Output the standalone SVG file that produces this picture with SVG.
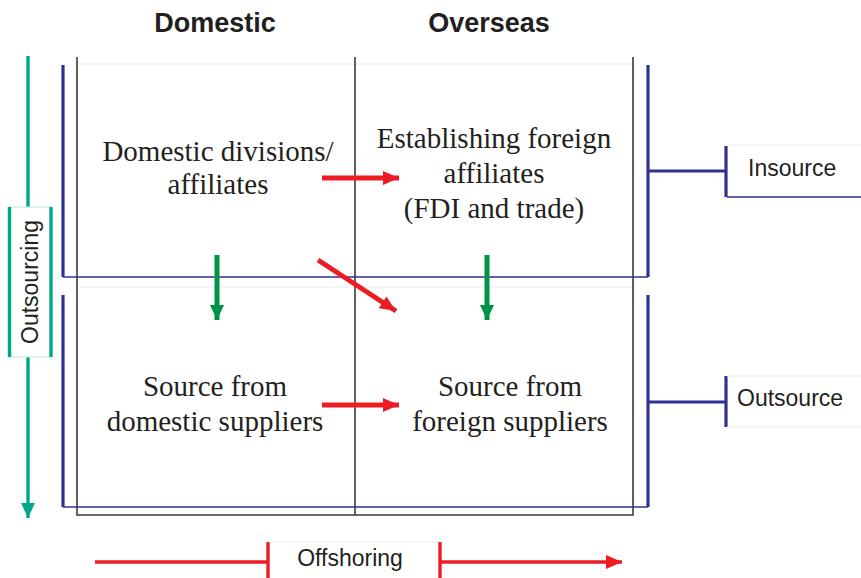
<svg xmlns="http://www.w3.org/2000/svg" width="861" height="578" viewBox="0 0 861 578">
<style>
.hdr{font-family:"Liberation Sans",Arial,sans-serif;font-weight:bold;font-size:27px;fill:#231f20;text-anchor:middle}
.cell{font-family:"Liberation Serif","Times New Roman",serif;font-size:29px;fill:#231f20;text-anchor:middle}
.lbl{font-family:"Liberation Sans",Arial,sans-serif;font-size:23px;fill:#231f20}
.grid{stroke:#3a3a3a;stroke-width:1.6;fill:none}
.faint{stroke:#ececec;stroke-width:1;fill:none}
.blue{stroke:#2e3192;stroke-width:3.2;fill:none}
.bluethin{stroke:#2e3192;stroke-width:1.5;fill:none}
.teal{stroke:#00a88a;stroke-width:3.4;fill:none}
.red{stroke:#ed1c24;stroke-width:5;fill:none}
.redline{stroke:#ed1c24;stroke-width:3.4;fill:none}
.green{stroke:#009245;stroke-width:5;fill:none}
</style>
<defs>
<marker id="ahRed" markerUnits="userSpaceOnUse" markerWidth="16" markerHeight="14" refX="16" refY="7" orient="auto"><path d="M0,0 L16,7 L0,14 Z" fill="#ed1c24"/></marker>
<marker id="ahGreen" markerUnits="userSpaceOnUse" markerWidth="15" markerHeight="14" refX="15" refY="7" orient="auto"><path d="M0,0 L15,7 L0,14 Z" fill="#009245"/></marker>
<marker id="ahTeal" markerUnits="userSpaceOnUse" markerWidth="15" markerHeight="14" refX="15" refY="7" orient="auto"><path d="M0,0 L15,7 L0,14 Z" fill="#00a88a"/></marker>
</defs>
<rect width="861" height="578" fill="#ffffff"/>

<g id="grid">
<line class="faint" x1="77" y1="64" x2="633" y2="64"/>
<line class="faint" x1="77" y1="287" x2="633" y2="287"/>
<path class="grid" d="M77,57 V515 H633 V57"/>
<line class="grid" x1="355" y1="57" x2="355" y2="515"/>
</g>

<g id="headers">
<text class="hdr" x="215" y="32">Domestic</text>
<text class="hdr" x="489" y="32">Overseas</text>
</g>

<g id="brackets">
<path class="blue" d="M63,65 V277"/>
<path class="blue" d="M648,65 V277"/>
<line class="bluethin" x1="63" y1="277" x2="648" y2="277"/>
<path class="blue" d="M63,295 V507"/>
<path class="blue" d="M648,295 V507"/>
<line class="bluethin" x1="63" y1="507" x2="648" y2="507"/>
</g>

<g id="insource">
<line class="blue" x1="648" y1="171" x2="726" y2="171"/>
<line class="blue" x1="726" y1="146" x2="726" y2="197"/>
<line class="faint" x1="727" y1="145" x2="861" y2="145"/>
<line stroke="#2e3192" stroke-width="1.3" x1="727" y1="197" x2="861" y2="197"/>
<text class="lbl" x="748" y="176">Insource</text>
</g>

<g id="outsource">
<line class="blue" x1="648" y1="402" x2="726" y2="402"/>
<line class="blue" x1="726" y1="376" x2="726" y2="427"/>
<line class="faint" x1="727" y1="376" x2="861" y2="376"/>
<line class="faint" x1="727" y1="427" x2="861" y2="427"/>
<text class="lbl" x="737" y="406">Outsource</text>
</g>

<g id="outsourcing">
<line class="teal" x1="28" y1="56" x2="28" y2="207"/>
<line class="teal" x1="28" y1="357" x2="28" y2="518" marker-end="url(#ahTeal)"/>
<line stroke="#bfe8de" stroke-width="1" x1="9" y1="207" x2="51" y2="207"/>
<line stroke="#bfe8de" stroke-width="1" x1="9" y1="357" x2="51" y2="357"/>
<line class="teal" x1="9.5" y1="207" x2="9.5" y2="357"/>
<line class="teal" x1="51" y1="207" x2="51" y2="357"/>
<text class="lbl" transform="translate(38,282) rotate(-90)" text-anchor="middle">Outsourcing</text>
</g>

<g id="offshoring">
<line class="redline" x1="95" y1="562" x2="268" y2="562"/>
<line class="redline" x1="268" y1="542" x2="268" y2="578"/>
<line class="faint" x1="269" y1="542" x2="440" y2="542"/>
<line class="redline" x1="440" y1="542" x2="440" y2="578"/>
<line class="redline" x1="440" y1="562" x2="622" y2="562" marker-end="url(#ahRed)"/>
<text class="lbl" x="350" y="566" text-anchor="middle">Offshoring</text>
</g>

<g id="cell-domestic-affiliates">
<text class="cell" x="218" y="161">Domestic divisions/</text>
<text class="cell" x="218" y="194">affiliates</text>
</g>
<g id="cell-foreign-affiliates">
<text class="cell" x="494" y="148">Establishing foreign</text>
<text class="cell" x="494" y="183">affiliates</text>
<text class="cell" x="494" y="218">(FDI and trade)</text>
</g>
<g id="cell-domestic-suppliers">
<text class="cell" x="215" y="396">Source from</text>
<text class="cell" x="215" y="431">domestic suppliers</text>
</g>
<g id="cell-foreign-suppliers">
<text class="cell" x="510" y="396">Source from</text>
<text class="cell" x="510" y="431">foreign suppliers</text>
</g>

<g id="connectors">
<line class="red" x1="322" y1="178" x2="399" y2="178" marker-end="url(#ahRed)"/>
<line class="red" x1="322" y1="405" x2="399" y2="405" marker-end="url(#ahRed)"/>
<line class="red" x1="318" y1="260" x2="396" y2="311" marker-end="url(#ahRed)"/>
<line class="green" x1="217" y1="255" x2="217" y2="320" marker-end="url(#ahGreen)"/>
<line class="green" x1="487" y1="255" x2="487" y2="320" marker-end="url(#ahGreen)"/>
</g>
</svg>
